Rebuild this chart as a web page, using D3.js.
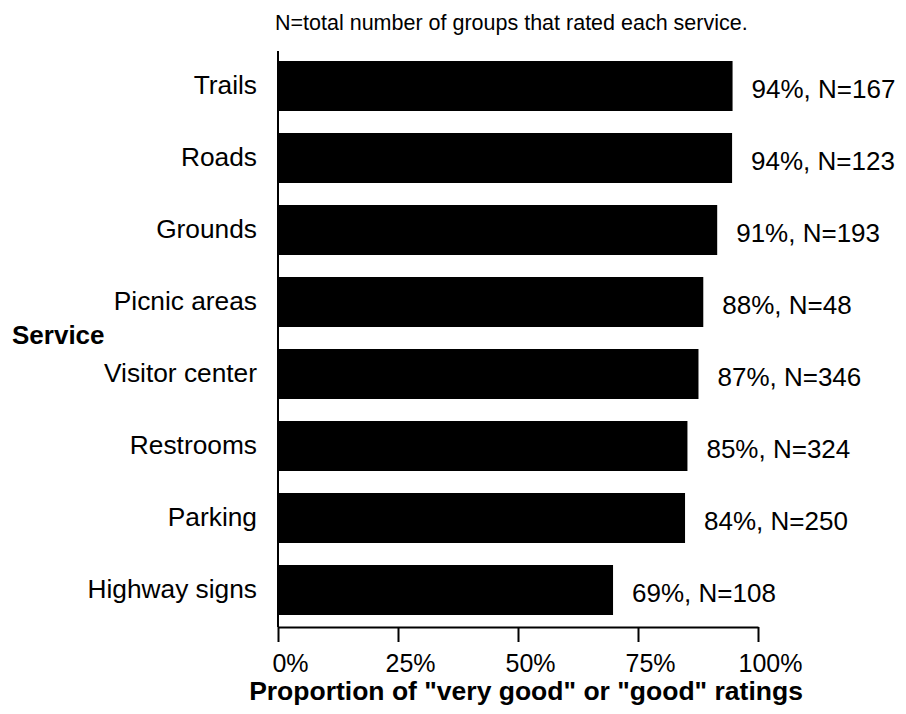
<!DOCTYPE html>
<html>
<head>
<meta charset="utf-8">
<script src="https://cdn.jsdelivr.net/npm/d3@7"></script>
<style>
  html, body { margin: 0; padding: 0; background: #fff; }
  svg { display: block; font-family: "Liberation Sans", Arial, Helvetica, sans-serif; }
</style>
</head>
<body>
<svg id="chart" width="906" height="714"></svg>
<script>
// ---- data ----
const services = ["Trails", "Roads", "Grounds", "Picnic areas", "Visitor center", "Restrooms", "Parking", "Highway signs"];
const proportions = [0.947, 0.946, 0.915, 0.886, 0.876, 0.853, 0.848, 0.698];
const pctLabels = ["94%", "94%", "91%", "88%", "87%", "85%", "84%", "69%"];
const groupCounts = [167, 123, 193, 48, 346, 324, 250, 108];
const xTicks = [0, 0.25, 0.5, 0.75, 1];
const titleText = "N=total number of groups that rated each service.";
const yTitle = "Service";
const xTitle = 'Proportion of "very good" or "good" ratings';

const rows = services.map((s, i) => ({ service: s, value: proportions[i], label: pctLabels[i] + ", N=" + groupCounts[i] }));

const svg = d3.select("#chart");

const x = d3.scaleLinear().domain([0, 1]).range([278, 758]);
const y = d3.scaleBand().domain(services).range([61, 615]).paddingInner(22 / 72).paddingOuter(0);

// title
svg.append("text")
  .attr("x", 275).attr("y", 30)
  .attr("font-size", 21.5)
  .attr("fill", "#000")
  .text(titleText);

// bars
svg.append("g").selectAll("rect")
  .data(rows)
  .join("rect")
  .attr("x", x(0))
  .attr("y", d => y(d.service))
  .attr("width", d => x(d.value) - x(0))
  .attr("height", y.bandwidth())
  .attr("fill", "#000");

// value labels
svg.append("g").selectAll("text")
  .data(rows)
  .join("text")
  .attr("x", d => x(d.value) + 19)
  .attr("y", d => y(d.service) + y.bandwidth() / 2 + 2)
  .attr("dy", "0.38em")
  .attr("font-size", 26)
  .attr("fill", "#000")
  .text(d => d.label);

// y axis labels
const yAxis = svg.append("g")
  .attr("transform", `translate(${x(0)},0)`)
  .call(d3.axisLeft(y).tickSize(0).tickPadding(21));
yAxis.select(".domain").remove();
yAxis.selectAll("text").attr("font-size", 26.3).attr("fill", "#000").attr("font-family", null);

// y axis line
svg.append("line")
  .attr("x1", x(0)).attr("x2", x(0))
  .attr("y1", 51).attr("y2", 627)
  .attr("stroke", "#000").attr("stroke-width", 2);

// x axis
const xAxis = svg.append("g")
  .attr("transform", "translate(0,627)")
  .call(d3.axisBottom(x).tickValues(xTicks).tickFormat(d3.format(".0%")).tickSize(15).tickSizeOuter(0).tickPadding(12));
xAxis.select(".domain").attr("stroke", "#000").attr("stroke-width", 2);
xAxis.selectAll(".tick line").attr("stroke", "#000").attr("stroke-width", 2);
xAxis.selectAll("text").attr("font-size", 25).attr("fill", "#000").attr("font-family", null).attr("dx", 12);

// axis titles
svg.append("text")
  .attr("x", 12).attr("y", 344)
  .attr("font-size", 26).attr("font-weight", "bold")
  .attr("fill", "#000")
  .text(yTitle);

svg.append("text")
  .attr("x", 526).attr("y", 700)
  .attr("text-anchor", "middle")
  .attr("font-size", 26.5).attr("font-weight", "bold")
  .attr("fill", "#000")
  .text(xTitle);
</script>
</body>
</html>
